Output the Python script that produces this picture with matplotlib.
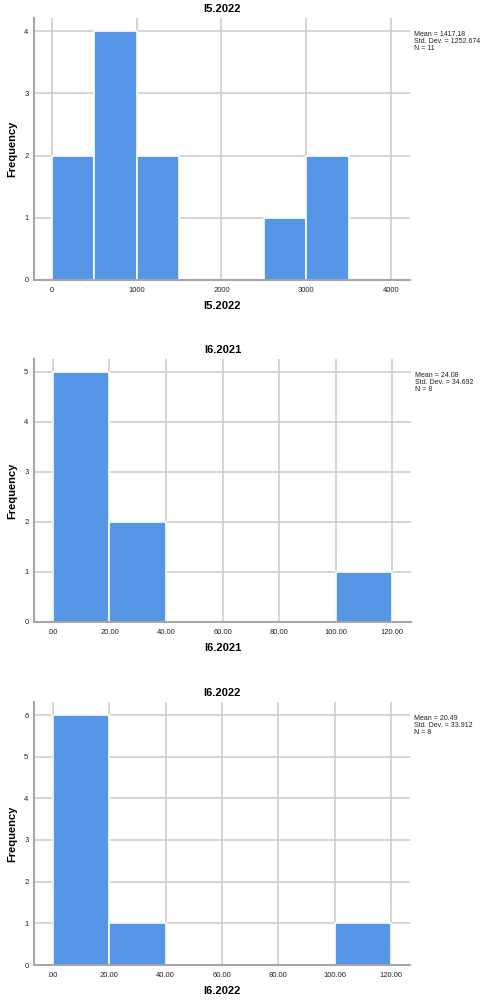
import matplotlib
matplotlib.use("Agg")
import matplotlib.pyplot as plt

plt.rcParams['font.family'] = ['Liberation Sans', 'DejaVu Sans']

# ---- data ----
titles = ["I5.2022", "I6.2021", "I6.2022"]
bin_starts_1 = [0, 500, 1000, 1500, 2000, 2500, 3000]
counts_1 = [2, 4, 2, 0, 0, 1, 2]
bin_starts_2 = [0, 20, 40, 60, 80, 100]
counts_2 = [5, 2, 0, 0, 0, 1]
bin_starts_3 = [0, 20, 40, 60, 80, 100]
counts_3 = [6, 1, 0, 0, 0, 1]
bin_widths = [500, 20, 20]
xticks_1 = [0, 1000, 2000, 3000, 4000]
xticklabels_1 = ["0", "1000", "2000", "3000", "4000"]
xticks_2 = [0, 20, 40, 60, 80, 100, 120]
xticklabels_2 = [".00", "20.00", "40.00", "60.00", "80.00", "100.00", "120.00"]
stats = [
    "Mean = 1417.18\nStd. Dev. = 1252.674\nN = 11",
    "Mean = 24.08\nStd. Dev. = 34.692\nN = 8",
    "Mean = 20.49\nStd. Dev. = 33.912\nN = 8",
]
ymax_ticks = [4, 5, 6]

panels = [
    (bin_starts_1, counts_1, xticks_1, xticklabels_1, (-212, 4224)),
    (bin_starts_2, counts_2, xticks_2, xticklabels_2, (-6.7, 126.7)),
    (bin_starts_3, counts_3, xticks_2, xticklabels_2, (-6.7, 126.7)),
]

W, H = 482, 1002
fig = plt.figure(figsize=(W / 100, H / 100), dpi=100)
fig.patch.set_facecolor("white")

axes_px = [(34, 18, 410, 280), (34, 359, 411, 622), (34, 702, 410, 965)]
bar_color = "#5596e6"
grid_color = "#cecece"
spine_color = "#a6a6a6"

for i, (starts, counts, xt, xtl, xlim) in enumerate(panels):
    l, t, r, b = axes_px[i]
    ax = fig.add_axes([l / W, 1 - b / H, (r - l) / W, (b - t) / H])
    ax.bar(starts, counts, width=bin_widths[i], align="edge", color=bar_color,
           edgecolor="white", linewidth=1.2, zorder=3)
    ymax = ymax_ticks[i]
    per_px = ymax / ((b - t) - 13)
    ax.set_ylim(0, ymax + 13 * per_px)
    ax.set_xlim(*xlim)
    ax.set_yticks(range(0, ymax + 1))
    ax.set_xticks(xt)
    ax.set_xticklabels(xtl)
    ax.grid(True, color=grid_color, linewidth=1.2, zorder=0)
    ax.set_axisbelow(True)
    for s in ["top", "right"]:
        ax.spines[s].set_visible(False)
    for s in ["left", "bottom"]:
        ax.spines[s].set_color(spine_color)
        ax.spines[s].set_linewidth(1.5)
        ax.spines[s].set_zorder(4)
    ax.tick_params(axis="both", length=0, labelsize=5.5, colors="#222222")
    ax.tick_params(axis="x", pad=5)
    ax.tick_params(axis="y", pad=4)
    ax.set_title(titles[i], fontsize=8, fontweight="bold", pad=4)
    ax.set_ylabel("Frequency", fontsize=8, fontweight="bold", labelpad=5)
    ax.set_xlabel(titles[i], fontsize=8, fontweight="bold", labelpad=5)
    ax.text(1.01, ymax, stats[i], transform=ax.get_yaxis_transform(),
            fontsize=5, va="top", ha="left", linespacing=1.0, color="#222222")

fig.savefig("out.png", dpi=100, facecolor="white")
